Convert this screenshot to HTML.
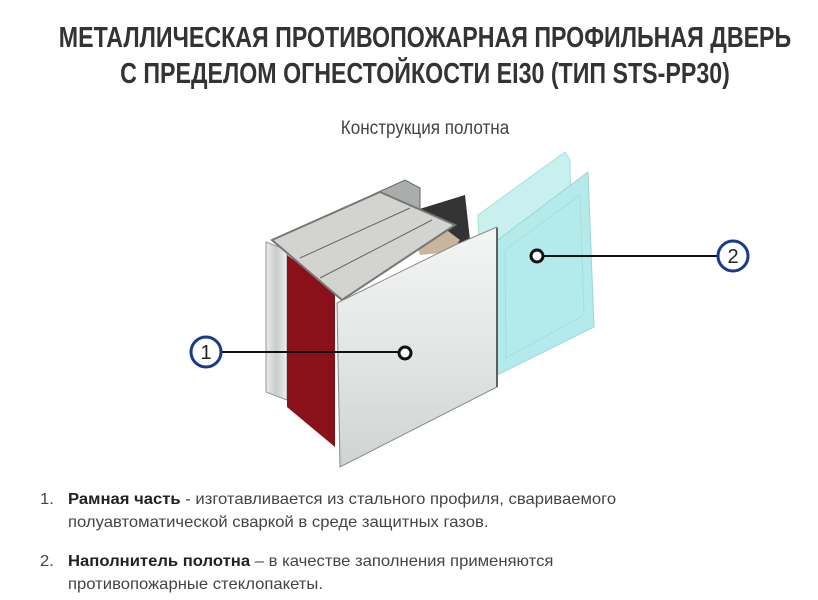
<!DOCTYPE html>
<html><head><meta charset="utf-8"><style>
body{margin:0;width:818px;height:600px;background:#fff;position:relative;overflow:hidden;font-family:"Liberation Sans",sans-serif}
.t{position:absolute;left:425px;font-weight:bold;font-size:29px;color:#333;white-space:nowrap;transform:translateX(-50%) scaleX(0.8)}
.sub{position:absolute;left:425px;top:118px;font-size:19px;color:#444;white-space:nowrap;transform:translateX(-50%) scaleX(0.9)}
.l{position:absolute;font-size:16px;color:#444;white-space:nowrap;transform-origin:0 0;transform:scaleX(1.04)}
.l b{color:#222}
</style></head><body>
<div class="t" style="top:22px">МЕТАЛЛИЧЕСКАЯ ПРОТИВОПОЖАРНАЯ ПРОФИЛЬНАЯ ДВЕРЬ</div>
<div class="t" style="top:58px">С ПРЕДЕЛОМ ОГНЕСТОЙКОСТИ EI30 (ТИП STS-PP30)</div>
<div class="sub">Конструкция полотна</div>
<svg width="818" height="600" style="position:absolute;left:0;top:0">
<defs>
<linearGradient id="m" x1="0" y1="0" x2="0" y2="1"><stop offset="0" stop-color="#f4f6f4"/><stop offset="0.5" stop-color="#e2e6e4"/><stop offset="1" stop-color="#cfd3d2"/></linearGradient>
<linearGradient id="s" x1="0" y1="0" x2="1" y2="0"><stop offset="0" stop-color="#e8ebea"/><stop offset="0.5" stop-color="#c8cccb"/><stop offset="1" stop-color="#eef0ef"/></linearGradient>
</defs>
<polygon points="478,215 565,152 570,160 572,305 482,350" fill="#c8f0ef" stroke="#a9dfdd"/>
<polygon points="495,242 588,172 594,327 497,375" fill="#b4ebea" stroke="#9ad7d6"/>
<polygon points="505,250 580,195 584,315 506,358" fill="none" stroke="#a6dedd"/>
<polygon points="372,195 405,180 420,188 420,215 400,225 372,210" fill="#a9adab" stroke="#666"/>
<polygon points="400,215 465,195 470,240 430,250 405,230" fill="#333"/>
<polygon points="412,232 440,225 460,240 450,252 420,255" fill="#c8b59b"/>
<polygon points="266,242 287,250 287,400 266,392" fill="url(#s)" stroke="#999"/>
<polygon points="287,255 335,290 335,447 287,407" fill="#8a1119"/>
<polygon points="272,240 380,192 455,225 342,300" fill="#d3d3d0" stroke="#777" stroke-width="2"/>
<line x1="300" y1="258" x2="410" y2="208" stroke="#666"/>
<line x1="320" y1="278" x2="432" y2="220" stroke="#666"/>
<polygon points="337,303 455,245 497,227 497,387 340,467" fill="url(#m)" stroke="#888"/>
<line x1="497" y1="228" x2="497" y2="387" stroke="#333" stroke-width="1.5"/>
<line x1="222" y1="352" x2="405" y2="352" stroke="#111" stroke-width="2"/>
<circle cx="206" cy="352" r="15" fill="#fff" stroke="#1a3a8c" stroke-width="3"/>
<text x="206" y="359" font-size="20" text-anchor="middle" fill="#222" font-family="Liberation Sans">1</text>
<circle cx="405" cy="353" r="6" fill="#fff" stroke="#111" stroke-width="3"/>
<line x1="537" y1="256" x2="717" y2="256" stroke="#111" stroke-width="2"/>
<circle cx="733" cy="256" r="15" fill="#fff" stroke="#1a3a8c" stroke-width="3"/>
<text x="733" y="263" font-size="20" text-anchor="middle" fill="#222" font-family="Liberation Sans">2</text>
<circle cx="537" cy="256" r="6" fill="#fff" stroke="#111" stroke-width="3"/>
</svg>
<div class="l" style="left:40px;top:491px">1.</div>
<div class="l" style="left:68px;top:491px"><b>Рамная часть</b> - изготавливается из стального профиля, свариваемого</div>
<div class="l" style="left:68px;top:514px">полуавтоматической сваркой в среде защитных газов.</div>
<div class="l" style="left:40px;top:553px">2.</div>
<div class="l" style="left:68px;top:553px"><b>Наполнитель полотна</b> – в качестве заполнения применяются</div>
<div class="l" style="left:68px;top:576px">противопожарные стеклопакеты.</div>
</body></html>
